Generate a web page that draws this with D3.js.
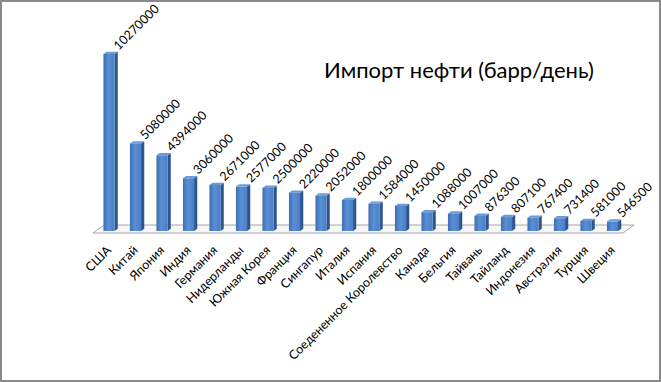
<!DOCTYPE html>
<html>
<head>
<meta charset="utf-8">
<script src="https://cdn.jsdelivr.net/npm/d3@7/dist/d3.min.js"></script>
<style>
  html, body { margin: 0; padding: 0; background: #fff; }
  svg { display: block; }
  text { font-family: Lato, "Open Sans", sans-serif; fill: #000; }
</style>
</head>
<body>
<svg id="chart" width="661" height="382"></svg>
<script>
const categories = ["США","Китай","Япония","Индия","Германия","Нидерланды","Южная Корея","Франция","Сингапур","Италия","Испания","Соедененное Королевство","Канада","Бельгия","Тайвань","Тайланд","Индонезия","Австралия","Турция","Швеция"];
const values = [10270000,5080000,4394000,3060000,2671000,2577000,2500000,2220000,2052000,1800000,1584000,1450000,1088000,1007000,876300,807100,767400,731400,581000,546500];
const title = "Импорт нефти (барр/день)";

const W = 661, H = 382;
const svg = d3.select("#chart");

// outer frame
svg.append("rect").attr("x", 1).attr("y", 1).attr("width", W - 2).attr("height", H - 2)
  .attr("fill", "#fff").attr("stroke", "#8a8a8a").attr("stroke-width", 2);

// floor geometry (3D perspective)
const floorFrontY = 233, depthX = 11, depthY = -8;
const floorX0 = 93, floorX1 = 623;

const x = d3.scaleBand().domain(categories).range([floorX0, floorX1])
  .paddingInner(0.58).paddingOuter(0.29);
const baseY = 231;
const y = d3.scaleLinear().domain([0, 10270000]).range([baseY, 54]);

// floor
svg.append("path")
  .attr("d", `M${floorX0},${floorFrontY} L${floorX1},${floorFrontY} L${floorX1 + depthX},${floorFrontY + depthY} L${floorX0 + depthX},${floorFrontY + depthY} Z`)
  .attr("fill", "#f7f7f7").attr("stroke", "#a6a6a6").attr("stroke-width", 1);

const defs = svg.append("defs");
const g1 = defs.append("linearGradient").attr("id", "front").attr("x1", 0).attr("x2", 1).attr("y1", 0).attr("y2", 0);
g1.append("stop").attr("offset", 0).attr("stop-color", "#3d6fb3");
g1.append("stop").attr("offset", 0.45).attr("stop-color", "#5a8fd5");
g1.append("stop").attr("offset", 1).attr("stop-color", "#4a7fc4");

const bdx = 3.2, bdy = -2.3, shift = 2.75;
const bw = x.bandwidth();

const bars = svg.append("g").selectAll("g").data(categories).join("g");
bars.each(function(c, i) {
  const g = d3.select(this);
  const x0 = x(c) + shift, x1 = x0 + bw;
  const top = y(values[i]);
  // side
  g.append("path").attr("d", `M${x1},${baseY} L${x1 + bdx},${baseY + bdy} L${x1 + bdx},${top + bdy} L${x1},${top} Z`)
    .attr("fill", "#2d5590");
  // top
  g.append("path").attr("d", `M${x0},${top} L${x1},${top} L${x1 + bdx},${top + bdy} L${x0 + bdx},${top + bdy} Z`)
    .attr("fill", "#6c9bd8");
  // front
  g.append("rect").attr("x", x0).attr("y", top).attr("width", bw).attr("height", baseY - top)
    .attr("fill", "url(#front)");
});

// value labels
svg.append("g").selectAll("text").data(categories).join("text")
  .attr("transform", (c, i) => `translate(${x(c) + shift + bw + bdx + 1},${y(values[i]) + bdy - 1}) rotate(-45)`)
  .attr("font-size", 12.5)
  .text((c, i) => values[i]);

// category labels
svg.append("g").selectAll("text").data(categories).join("text")
  .attr("transform", c => `translate(${x(c) + shift + bw / 2 + 3},${251}) rotate(-45)`)
  .attr("text-anchor", "end")
  .attr("font-size", 12.5)
  .text(c => c);

// title
svg.append("text").attr("x", 324).attr("y", 78).attr("font-size", 22).text(title);
</script>
</body>
</html>
